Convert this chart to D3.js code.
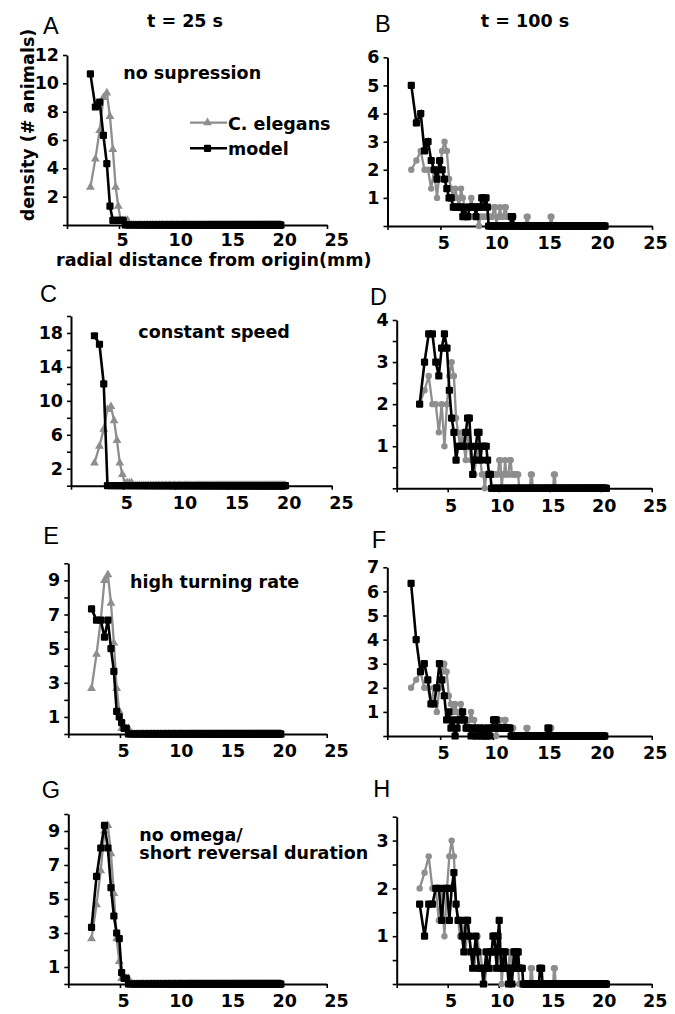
<!DOCTYPE html>
<html><head><meta charset="utf-8">
<script src="https://cdn.jsdelivr.net/npm/d3@7/dist/d3.min.js"></script>
<style>
body{margin:0;background:#fff}
svg text{font-family:"DejaVu Sans",sans-serif;font-weight:bold;font-size:17.5px;fill:#000}
svg text.letter{font-family:"Liberation Sans",Arial,sans-serif;font-weight:normal;font-size:23.5px}
</style>
</head><body>
<svg id="chart" width="675" height="1014"></svg>
<script>
// Radial bins (mm): bin centres, dense towards ~20.5 mm.
const radius = [
 2.25, 2.73, 3.14, 3.50, 3.83, 4.13, 4.41, 4.68, 4.93, 5.16,
 5.39, 5.61, 5.82, 6.02, 6.22, 6.41, 6.59, 6.77, 6.95, 7.12,
 7.28, 7.45, 7.61, 7.76, 7.92, 8.07, 8.21, 8.36, 8.50, 8.64,
 8.78, 8.91, 9.05, 9.18, 9.31, 9.44, 9.56, 9.69, 9.81, 9.93,
 10.05, 10.17, 10.29, 10.40, 10.52, 10.63, 10.75, 10.86, 10.97, 11.08,
 11.18, 11.29, 11.40, 11.50, 11.60, 11.71, 11.81, 11.91, 12.01, 12.11,
 12.21, 12.31, 12.40, 12.50, 12.60, 12.69, 12.79, 12.88, 12.97, 13.06,
 13.16, 13.25, 13.34, 13.43, 13.52, 13.60, 13.69, 13.78, 13.87, 13.95,
 14.04, 14.12, 14.21, 14.29, 14.38, 14.46, 14.54, 14.62, 14.71, 14.79,
 14.87, 14.95, 15.03, 15.11, 15.19, 15.27, 15.34, 15.42, 15.50, 15.58,
 15.65, 15.73, 15.81, 15.88, 15.96, 16.03, 16.11, 16.18, 16.26, 16.33,
 16.40, 16.48, 16.55, 16.62, 16.69, 16.76, 16.84, 16.91, 16.98, 17.05,
 17.12, 17.19, 17.26, 17.33, 17.40, 17.47, 17.53, 17.60, 17.67, 17.74,
 17.81, 17.87, 17.94, 18.01, 18.07, 18.14, 18.21, 18.27, 18.34, 18.40,
 18.47, 18.53, 18.60, 18.66, 18.73, 18.79, 18.85, 18.92, 18.98, 19.04,
 19.11, 19.17, 19.23, 19.29, 19.36, 19.42, 19.48, 19.54, 19.60, 19.66,
 19.72, 19.79, 19.85, 19.91, 19.97, 20.03, 20.09, 20.15, 20.21, 20.26,
 20.32, 20.38, 20.44, 20.50, 20.56
];

// Densities (# animals) per bin; bins after the last listed value read as 0.
const celegans25 = [2.67, 4.67, 6.67, 9, 9.33, 7.67, 5.33, 2.67, 1.33, 0.33, 0.33, 0.33, 0.33];
const celegans100 = [
 2, 2.33, 2.67, 2, 2, 1.33, 2, 1, 2, 2.67,
 3, 2.67, 1.67, 1.33, 1, 1.33, 1, 0.67, 1.33, 1,
 0.67, 0.67, 0.33, 0.67, 1, 0.67, 0.67, 0.33, 0.33, 0,
 0.33, 0.33, 0.33, 0.33, 0.33, 0.33, 0.33, 0.33, 0.33, 0.33,
 0.67, 0.67, 0, 0.33, 0.33, 0.67, 0.33, 0.33, 0.33, 0.67,
 0.67, 0.33, 0.33, 0.33, 0.33, 0.33, 0.33, 0.33, 0, 0,
 0, 0, 0, 0, 0, 0, 0, 0, 0, 0,
 0.33, 0.33, 0, 0, 0, 0, 0, 0, 0, 0,
 0, 0, 0, 0, 0, 0, 0, 0, 0, 0,
 0, 0, 0, 0, 0, 0, 0, 0.33, 0.33
];
const modelA = [10.67, 8.33, 8.67, 6.33, 4.33, 1.33, 0.33, 0.33, 0.33, 0.33, 0.33];
const modelB = [
 5, 3.67, 4, 2.67, 3, 2.33, 2, 1.67, 2.33, 2,
 1.67, 1.33, 1, 1, 0.67, 0.67, 0.67, 0.67, 0.67, 0.33,
 0.67, 0.33, 0.33, 0.67, 0.67, 0.67, 0.67, 0.33, 0.67, 0.67,
 0.67, 1, 1, 0.67, 1, 0.67, 0, 0, 0, 0,
 0, 0, 0, 0, 0, 0, 0, 0, 0, 0,
 0, 0, 0, 0, 0, 0.33, 0.33
];
const modelC = [17.67, 16.67, 12];
const modelD = [
 2, 3, 3.67, 3.67, 3, 2.67, 3.33, 3.67, 3.33, 2.33,
 1.67, 1.33, 0.67, 1, 1, 1, 1, 1.33, 1.67, 1.67,
 1, 0.33, 0.67, 1, 1.33, 1.33, 0.67, 1, 1, 1,
 1, 0.67, 0.33, 0.33
];
const modelE = [7.33, 6.67, 6.67, 5.67, 6.67, 5, 3.67, 1.33, 1, 0.67, 0.33, 0.33];
const modelF = [
 6.33, 4, 2.67, 3, 2.33, 1.33, 1.33, 2, 3, 2.33,
 1.67, 0.67, 1, 0.33, 0.67, 0, 0.33, 0.67, 0.67, 1,
 0.67, 0.33, 0.33, 0.33, 0, 0.33, 0.33, 0, 0, 0.33,
 0.33, 0, 0, 0.33, 0, 0, 0.33, 0, 0.33, 0.33,
 0.67, 0.67, 0.67, 0.33, 0.33, 0.33, 0.33, 0.33, 0.33, 0.33,
 0.33, 0.33, 0.33, 0.33, 0.33, 0, 0, 0, 0, 0,
 0, 0, 0, 0, 0, 0, 0, 0, 0, 0,
 0, 0, 0, 0, 0, 0, 0, 0, 0, 0,
 0, 0, 0, 0, 0, 0, 0, 0, 0, 0,
 0, 0, 0, 0, 0.33, 0.33
];
const modelG = [3.33, 6.33, 8, 9.33, 8, 5.67, 4, 3, 2.67, 0.67, 0.33, 0.33];
const modelH = [
 1.67, 1, 1.67, 1.67, 2, 2, 1.33, 2, 2, 1.33,
 2, 2.33, 1.67, 1.33, 1.33, 1, 0.67, 1.33, 1.33, 1,
 0.67, 0.33, 0.67, 1, 0.67, 0.33, 0.33, 0.33, 0, 0.33,
 0.67, 0.33, 0.33, 0.67, 0.67, 1, 1, 0.67, 0.33, 1,
 1.33, 0.67, 0.33, 0.33, 0.67, 0.67, 0.33, 0.33, 0, 0.33,
 0.33, 0, 0.33, 0.67, 0.67, 0.33, 0.67, 0.67, 0.33, 0.33,
 0.33, 0.33, 0, 0, 0, 0, 0, 0, 0, 0,
 0, 0, 0, 0, 0, 0, 0, 0, 0, 0,
 0.33, 0.33, 0.33
];

// Tick labels
const xTickLabels = [5, 10, 15, 20, 25];
const yLabelsA = [2, 4, 6, 8, 10, 12];
const yLabelsB = [1, 2, 3, 4, 5, 6];
const yLabelsC = [2, 6, 10, 14, 18];
const yLabelsD = [1, 2, 3, 4];
const yLabelsE = [1, 3, 5, 7, 9];
const yLabelsF = [1, 2, 3, 4, 5, 6, 7];
const yLabelsG = [1, 3, 5, 7, 9];
const yLabelsH = [1, 2, 3];

const seriesNames = ["C. elegans", "model"];
const panelLetters = ["A","B","C","D","E","F","G","H"];
const timeTitles = ["t = 25 s", "t = 100 s"];
const conditionTitles = [["no supression"], ["constant speed"], ["high turning rate"], ["no omega/", "short reversal duration"]];

// Layout (pixels)
const GRAY = "#8e8e8e";
const panels = [
 {model: modelA, worms: celegans25, shape: "tri", left: 67, right: 327, top: 55, bottom: 225, yMax: 12, yStep: 2, yLabels: yLabelsA, lx: 43, ly: 33.5, leftCol: true, xPad: 5},
 {model: modelB, worms: celegans100, shape: "circ", left: 387.5, right: 652, top: 57.3, bottom: 226, yMax: 6, yStep: 1, yLabels: yLabelsB, lx: 375, ly: 32.3},
 {model: modelC, worms: celegans25, shape: "tri", left: 71, right: 331.7, top: 316, bottom: 485.7, yMax: 20, yStep: 2, yLabels: yLabelsC, lx: 40, ly: 301.7, leftCol: true},
 {model: modelD, worms: celegans100, shape: "circ", left: 396.7, right: 651.7, top: 320, bottom: 488.3, yMax: 4, yStep: 0.5, yLabels: yLabelsD, lx: 370, ly: 305},
 {model: modelE, worms: celegans25, shape: "tri", left: 68.3, right: 326.7, top: 563.3, bottom: 734, yMax: 10, yStep: 1, yLabels: yLabelsE, lx: 43.3, ly: 544, leftCol: true},
 {model: modelF, worms: celegans100, shape: "circ", left: 387.3, right: 651.7, top: 567.3, bottom: 736, yMax: 7, yStep: 1, yLabels: yLabelsF, lx: 371.7, ly: 548.3},
 {model: modelG, worms: celegans25, shape: "tri", left: 68.3, right: 326.7, top: 814, bottom: 984, yMax: 10, yStep: 1, yLabels: yLabelsG, lx: 41.7, ly: 798.3, leftCol: true},
 {model: modelH, worms: celegans100, shape: "circ", left: 396.7, right: 651.7, top: 816.7, bottom: 984, yMax: 3.5, yStep: 0.5, yLabels: yLabelsH, lx: 373.3, ly: 796.7}
];
const conditionPos = [[123.3, 79], [138.3, 338.3], [130, 588.3], [139.3, 840.5]];
const lineGap = 18.8;

const svg = d3.select("#chart");
svg.append("rect").attr("width", 675).attr("height", 1014).attr("fill", "#fff");

const full = vals => radius.map((r, i) => ({r: r, v: i < vals.length ? vals[i] : 0}));
const triSym = d3.symbol().type(d3.symbolTriangle).size(34);

function drawMarkers(g, data, x, y, kind, color) {
  if (kind === "tri") {
    g.selectAll(null).data(data).enter().append("path")
      .attr("d", triSym).attr("fill", color)
      .attr("transform", d => `translate(${x(d.r)},${y(d.v)})`);
  } else if (kind === "circ") {
    g.selectAll(null).data(data).enter().append("circle")
      .attr("cx", d => x(d.r)).attr("cy", d => y(d.v)).attr("r", 3.2).attr("fill", color);
  } else {
    g.selectAll(null).data(data).enter().append("rect")
      .attr("x", d => x(d.r) - 3.6).attr("y", d => y(d.v) - 3.6)
      .attr("width", 7.2).attr("height", 7.2).attr("rx", 1.2).attr("fill", color);
  }
}

panels.forEach((p, i) => {
  const g = svg.append("g");
  const x = d3.scaleLinear().domain([0, 25]).range([p.left, p.right]);
  const y = d3.scaleLinear().domain([0, p.yMax]).range([p.bottom, p.top]);

  // axes
  const yTicks = d3.range(0, p.yMax + 1e-6, p.yStep);
  const yAxis = d3.axisLeft(y).tickValues(yTicks).tickSize(4).tickSizeOuter(0).tickPadding(4)
    .tickFormat(d => p.yLabels.some(v => Math.abs(v - d) < 1e-6) ? d : "");
  const ya = g.append("g").attr("transform", `translate(${p.left},0)`).call(yAxis);
  const xAxis = d3.axisBottom(x).tickValues([0, 5, 10, 15, 20, 25]).tickSize(4).tickSizeOuter(0)
    .tickPadding(p.xPad !== undefined ? p.xPad : 7)
    .tickFormat(d => xTickLabels.includes(d) ? d : "");
  const xa = g.append("g").attr("transform", `translate(0,${p.bottom})`).call(xAxis);
  [ya, xa].forEach(a => {
    a.attr("font-family", null).attr("font-size", null);
    a.select(".domain").attr("stroke", "#000").attr("stroke-width", 2);
    a.selectAll(".tick line").attr("stroke", "#000").attr("stroke-width", 1.6);
  });
  if (p.leftCol) {
    xa.selectAll(".tick text").attr("text-anchor", "start").attr("dx", "-3");
  } else {
    xa.selectAll(".tick text").attr("dx", "3");
  }

  // series
  const line = d3.line().x(d => x(d.r)).y(d => y(d.v));
  const wd = full(p.worms), md = full(p.model);
  g.append("path").datum(wd).attr("d", line).attr("fill", "none").attr("stroke", GRAY).attr("stroke-width", 2.3);
  drawMarkers(g, wd, x, y, p.shape, GRAY);
  g.append("path").datum(md).attr("d", line).attr("fill", "none").attr("stroke", "#000").attr("stroke-width", 2.6);
  drawMarkers(g, md, x, y, "sq", "#000");

  // panel letter
  svg.append("text").attr("class", "letter").attr("x", p.lx).attr("y", p.ly).text(panelLetters[i]);
});

// column titles
svg.append("text").attr("x", 185).attr("y", 27.3).attr("text-anchor", "middle").text(timeTitles[0]);
svg.append("text").attr("x", 525).attr("y", 27).attr("text-anchor", "middle").text(timeTitles[1]);

// condition titles
conditionTitles.forEach((lines, i) => {
  lines.forEach((t, j) => {
    svg.append("text").attr("x", conditionPos[i][0]).attr("y", conditionPos[i][1] + j * lineGap).text(t);
  });
});

// axis titles (panel A)
svg.append("text").attr("transform", "translate(33.5,125) rotate(-90)").attr("text-anchor", "middle").text("density (# animals)");
svg.append("text").attr("x", 56).attr("y", 266).text("radial distance from origin(mm)");

// legend (panel A)
const leg = svg.append("g");
const legY = [122.7, 148.3];
leg.append("line").attr("x1", 190).attr("x2", 227).attr("y1", legY[0]).attr("y2", legY[0]).attr("stroke", GRAY).attr("stroke-width", 2.3);
leg.append("path").attr("d", triSym()).attr("fill", GRAY).attr("transform", `translate(207.5,${legY[0]})`);
leg.append("line").attr("x1", 190).attr("x2", 227).attr("y1", legY[1]).attr("y2", legY[1]).attr("stroke", "#000").attr("stroke-width", 2.6);
leg.append("rect").attr("x", 203.9).attr("y", legY[1] - 3.6).attr("width", 7.2).attr("height", 7.2).attr("rx", 1.2).attr("fill", "#000");
leg.append("text").attr("x", 228).attr("y", 130).text(seriesNames[0]);
leg.append("text").attr("x", 228).attr("y", 155).text(seriesNames[1]);
</script>
</body></html>
